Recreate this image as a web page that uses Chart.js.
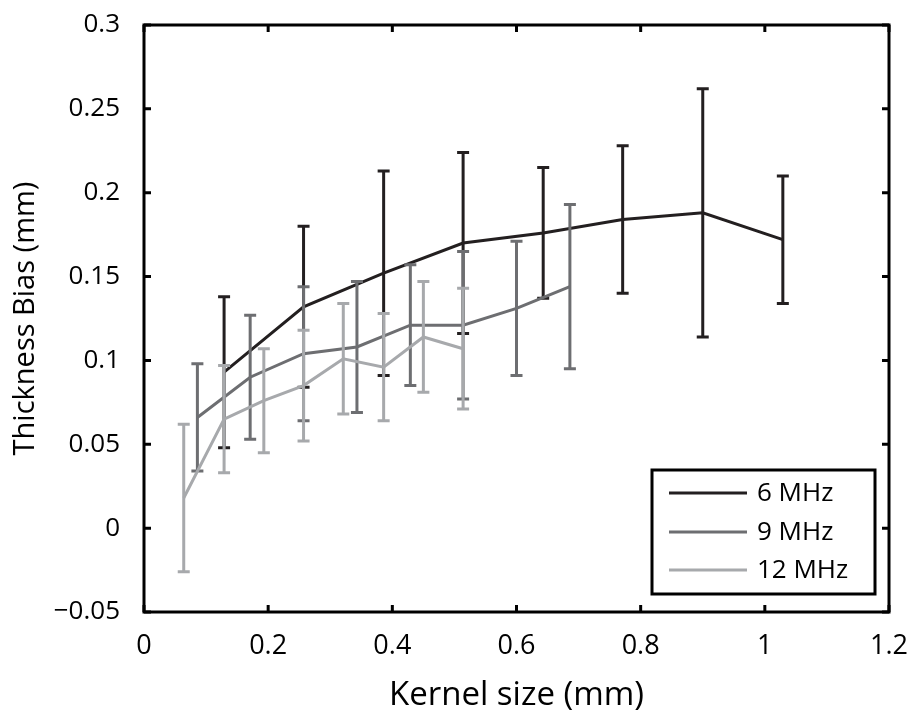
<!DOCTYPE html>
<html>
<head>
<meta charset="utf-8">
<script src="https://cdn.jsdelivr.net/npm/chart.js@4.4.1/dist/chart.umd.min.js"></script>
<style>
  body { margin: 0; background: #fff; }
  canvas { display: block; }
</style>
</head>
<body>
<canvas id="bias" width="915" height="718"></canvas>
<script>
// kernel size (mm), bias (mm) and +/- error for each frequency
var kernel6 = [0.129, 0.257, 0.386, 0.514, 0.643, 0.771, 0.900, 1.029];
var bias6 = [0.093, 0.132, 0.152, 0.170, 0.176, 0.184, 0.188, 0.172];
var err6 = [0.045, 0.048, 0.061, 0.054, 0.039, 0.044, 0.074, 0.038];

var kernel9 = [0.086, 0.171, 0.257, 0.343, 0.429, 0.514, 0.600, 0.686];
var bias9 = [0.066, 0.090, 0.104, 0.108, 0.121, 0.121, 0.131, 0.144];
var err9 = [0.032, 0.037, 0.040, 0.039, 0.036, 0.044, 0.040, 0.049];

var kernel12 = [0.064, 0.129, 0.193, 0.257, 0.321, 0.386, 0.450, 0.514];
var bias12 = [0.018, 0.065, 0.076, 0.085, 0.101, 0.096, 0.114, 0.107];
var err12 = [0.044, 0.032, 0.031, 0.033, 0.033, 0.032, 0.033, 0.036];

var seriesNames = ["6 MHz", "9 MHz", "12 MHz"];
var xTicks = [0, 0.2, 0.4, 0.6, 0.8, 1, 1.2];
var xTickLabels = ["0", "0.2", "0.4", "0.6", "0.8", "1", "1.2"];
var yTicks = [-0.05, 0, 0.05, 0.1, 0.15, 0.2, 0.25, 0.3];
var yTickLabels = ["\u22120.05", "0", "0.05", "0.1", "0.15", "0.2", "0.25", "0.3"];

var colors = ["#231f20", "#6d6e71", "#a7a9ac"];
var fontFamily = "'Open Sans', 'DejaVu Sans', sans-serif";

function pts(xs, ys) {
    return xs.map(function(x, i) { return {x: x, y: ys[i]}; });
}

var errors = [err6, err9, err12];

// error bars drawn right after each line so the stacking matches
var errorBars = {
    id: 'errorBars',
    afterDatasetDraw: function(chart, args) {
        var ctx = chart.ctx;
        var xs = chart.scales.x, ys = chart.scales.y;
        var ds = chart.data.datasets[args.index];
        var err = errors[args.index];
        ctx.save();
        ctx.strokeStyle = ds.borderColor;
        ctx.lineWidth = 3;
        ds.data.forEach(function(p, i) {
            var px = xs.getPixelForValue(p.x);
            var top = ys.getPixelForValue(p.y + err[i]);
            var bot = ys.getPixelForValue(p.y - err[i]);
            ctx.beginPath();
            ctx.moveTo(px, top); ctx.lineTo(px, bot);
            ctx.moveTo(px - 6, top); ctx.lineTo(px + 6, top);
            ctx.moveTo(px - 6, bot); ctx.lineTo(px + 6, bot);
            ctx.stroke();
        });
        ctx.restore();
    }
};

// box, inward ticks on all four sides, legend
var frame = {
    id: 'frame',
    afterDraw: function(chart) {
        var ctx = chart.ctx;
        var a = chart.chartArea;
        var xs = chart.scales.x, ys = chart.scales.y;
        ctx.save();
        ctx.strokeStyle = "#000";
        ctx.lineWidth = 3;
        ctx.strokeRect(a.left, a.top, a.right - a.left, a.bottom - a.top);
        ctx.beginPath();
        xTicks.forEach(function(v) {
            var px = xs.getPixelForValue(v);
            ctx.moveTo(px, a.bottom); ctx.lineTo(px, a.bottom - 7);
            ctx.moveTo(px, a.top); ctx.lineTo(px, a.top + 7);
        });
        yTicks.forEach(function(v) {
            var py = ys.getPixelForValue(v);
            ctx.moveTo(a.left, py); ctx.lineTo(a.left + 7, py);
            ctx.moveTo(a.right, py); ctx.lineTo(a.right - 7, py);
        });
        ctx.stroke();

        // legend
        ctx.fillStyle = "#fff";
        ctx.fillRect(652, 470, 223, 124);
        ctx.strokeRect(652, 470, 223, 124);
        ctx.font = "26px " + fontFamily;
        ctx.textBaseline = "middle";
        ctx.textAlign = "left";
        var rows = [493, 532, 570];
        seriesNames.forEach(function(name, i) {
            ctx.strokeStyle = colors[i];
            ctx.beginPath();
            ctx.moveTo(669, rows[i]); ctx.lineTo(747, rows[i]);
            ctx.stroke();
            ctx.fillStyle = "#000";
            ctx.fillText(name, 757, rows[i] + 1);
        });
        ctx.restore();
    }
};

var ctx = document.getElementById('bias');
var biasChart = new Chart(ctx, {
    type: 'line',
    data: {
        datasets: [
            { label: seriesNames[0], data: pts(kernel6, bias6), borderColor: colors[0], order: 3 },
            { label: seriesNames[1], data: pts(kernel9, bias9), borderColor: colors[1], order: 2 },
            { label: seriesNames[2], data: pts(kernel12, bias12), borderColor: colors[2], order: 1 }
        ]
    },
    options: {
        responsive: false,
        animation: false,
        parsing: false,
        layout: { padding: { left: 0, right: 26, top: 25, bottom: 0 } },
        elements: {
            line: { borderWidth: 3, tension: 0, fill: false },
            point: { radius: 0 }
        },
        plugins: { legend: { display: false }, tooltip: { enabled: false } },
        scales: {
            x: {
                type: 'linear',
                min: 0, max: 1.2,
                afterBuildTicks: function(s) { s.ticks = xTicks.map(function(v) { return {value: v}; }); },
                afterFit: function(s) {
                    s.height = 106;
                    s.paddingLeft = 0; s.paddingRight = 0;
                },
                grid: { display: false },
                border: { display: false },
                ticks: {
                    padding: 10,
                    color: "#000",
                    font: { family: fontFamily, size: 27 },
                    maxRotation: 0,
                    callback: function(v) { return xTickLabels[xTicks.indexOf(v)]; }
                },
                title: {
                    display: true,
                    text: "Kernel size (mm)",
                    color: "#000",
                    font: { family: fontFamily, size: 33 },
                    padding: { top: 0, bottom: 3 }
                }
            },
            y: {
                type: 'linear',
                min: -0.05, max: 0.3,
                afterBuildTicks: function(s) { s.ticks = yTicks.map(function(v) { return {value: v}; }); },
                afterFit: function(s) {
                    s.width = 144;
                    s.paddingTop = 0; s.paddingBottom = 0;
                },
                grid: { display: false },
                border: { display: false },
                ticks: {
                    padding: 16,
                    color: "#000",
                    font: { family: fontFamily, size: 26 },
                    callback: function(v) { return yTickLabels[yTicks.indexOf(v)]; }
                },
                title: {
                    display: true,
                    text: "Thickness Bias (mm)",
                    color: "#000",
                    font: { family: fontFamily, size: 29 },
                    padding: { top: 8, bottom: 0 }
                }
            }
        }
    },
    plugins: [errorBars, frame]
});
</script>
</body>
</html>
